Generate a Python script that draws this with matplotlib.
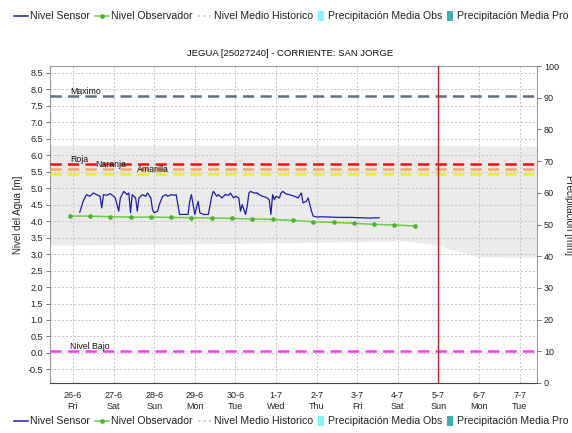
import numpy as np
import pandas as pd
import matplotlib
matplotlib.use("Agg")
import matplotlib.pyplot as plt
import matplotlib.dates as mdates
from matplotlib.lines import Line2D
from matplotlib.patches import Rectangle

plt.rcParams["font.family"] = ["Liberation Sans", "DejaVu Sans"]

# ---------------------------------------------------------------- data
start = pd.Timestamp("2020-06-26 00:00")

# sensor level readings: hours since 26-6 00:00, level in metres
sensor_hours = [4, 6, 8, 10, 12, 14, 16, 17, 18, 20, 22, 24, 25, 27, 28, 29, 30, 32, 33, 34,
                35, 37, 38, 39, 41, 43, 44, 46, 47, 48, 50, 51, 53, 55, 56, 58, 60, 61, 63, 66,
                68, 69, 70, 71, 72, 74, 75, 77, 80, 82, 83, 85, 86, 88, 90, 92, 93, 95, 96, 98,
                99, 100, 102, 103, 104, 105, 107, 109, 110, 112, 114, 116, 117, 118, 119, 120,
                122, 123, 124, 126, 128, 129, 131, 133, 135, 136, 138, 139, 141, 142, 144, 146,
                152, 158, 164, 170, 176, 181]
sensor_level = [4.27, 4.60, 4.80, 4.75, 4.85, 4.80, 4.75, 4.40, 4.80, 4.78, 4.83, 4.75, 4.70,
                4.30, 4.70, 4.80, 4.90, 4.80, 4.85, 4.25, 4.80, 4.70, 4.30, 4.70, 4.80, 4.75,
                4.85, 4.70, 4.35, 4.25, 4.30, 4.50, 4.75, 4.80, 4.75, 4.80, 4.78, 4.80, 4.20,
                4.20, 4.20, 4.60, 4.80, 4.50, 4.20, 4.60, 4.25, 4.20, 4.20, 4.75, 4.90, 4.75,
                4.80, 4.70, 4.80, 4.78, 4.85, 4.70, 4.75, 4.70, 4.30, 4.50, 4.20, 4.45, 4.85,
                4.90, 4.85, 4.85, 4.80, 4.75, 4.72, 4.65, 4.20, 4.80, 4.65, 4.75, 4.70, 4.85,
                4.90, 4.82, 4.80, 4.78, 4.75, 4.70, 4.85, 4.55, 4.60, 4.70, 4.30, 4.15, 4.12,
                4.13, 4.12, 4.11, 4.11, 4.10, 4.09, 4.10]

# observer readings (twice a day)
obs_hours = [-2, 10, 22, 34, 46, 58, 70, 82, 94, 106, 118, 130, 142, 154, 166, 178, 190, 202]
obs_level = [4.15, 4.15, 4.13, 4.12, 4.12, 4.11, 4.10, 4.09, 4.08, 4.06, 4.05, 4.02, 3.98,
             3.96, 3.93, 3.90, 3.88, 3.85]

# historical range envelope
band_hours = [-14, 60, 150, 196, 212, 240, 275]
band_low = [3.27, 3.30, 3.36, 3.40, 3.30, 2.92, 2.90]
band_high = [6.30, 6.30, 6.30, 6.30, 6.30, 6.28, 6.27]

# alert thresholds
threshold_names = ["Maximo", "Roja", "Naranja", "Amarilla", "Nivel Bajo"]
threshold_values = [7.79, 5.72, 5.58, 5.43, 0.06]
threshold_colors = ["#5f6f80", "#ee1111", "#f4a860", "#eeee22", "#ee44ee"]
threshold_label_hours = [-1.5, -1.5, 13, 38, -1.5]

forecast_hour = 216  # 5-7 00:00

day_ticks = list(range(0, 12))

title = "JEGUA [25027240] - CORRIENTE: SAN JORGE"

# ---------------------------------------------------------------- figure
def to_time(hours):
    return start + pd.to_timedelta(np.asarray(hours, dtype=float), unit="h")

fig = plt.figure(figsize=(5.72, 4.33), dpi=100)
W, H = 572.0, 433.0
ax = fig.add_axes([50 / W, 1 - 383 / H, 487 / W, 317 / H])

t_band = to_time(band_hours)
ax.fill_between(t_band, band_low, band_high, color="#ebebeb", lw=0, zorder=0)

ax.set_ylim(-0.91, 8.70)
ax.set_xlim(to_time([-13.6])[0], to_time([274.3])[0])

ax.set_yticks(np.arange(-0.5, 8.51, 0.5))
ax.set_yticklabels([f"{v:.1f}" for v in np.arange(-0.5, 8.51, 0.5)])
ax.set_xticks(to_time([d * 24 for d in day_ticks]))
ax.xaxis.set_major_formatter(
    plt.FuncFormatter(lambda v, p: (lambda d: f"{d.day}-{d.month}\n{d.strftime('%a')}")(mdates.num2date(v))))

ax.grid(True, color="#c4c4c4", linestyle=(0, (2, 2)), linewidth=0.7, zorder=1)
ax.set_axisbelow(True)

for name, val, col, lh in zip(threshold_names, threshold_values, threshold_colors, threshold_label_hours):
    ax.axhline(val, color=col, lw=1.8, linestyle=(0, (4.5, 2.5)), zorder=3)
    ax.text(to_time([lh])[0], val + 0.01, name, fontsize=6.3, va="bottom", ha="left",
            color="#111111", zorder=5)

ax.plot(to_time(sensor_hours), sensor_level, color="#1c1cb0", lw=0.9, zorder=4)
ax.plot(to_time(obs_hours), obs_level, color="#6ccc48", lw=1.1, marker="o", ms=2.3,
        mfc="#50b030", mec="#50b030", zorder=4)

ax.axvline(to_time([forecast_hour])[0], color="#cc2020", lw=1.0, zorder=4)

for s in ["left", "right", "top"]:
    ax.spines[s].set_color("#9a9a9a")
    ax.spines[s].set_linewidth(0.8)
ax.spines["bottom"].set_color("#444444")
ax.spines["bottom"].set_linestyle((0, (1, 1)))

ax.tick_params(axis="y", labelsize=6.5, length=3, width=0.7, color="#777777", pad=2, labelcolor="#222222")
ax.tick_params(axis="x", labelsize=6.5, length=0, pad=6, labelcolor="#222222")

ax2 = ax.twinx()
ax2.set_ylim(0, 100)
ax2.set_yticks(np.arange(0, 101, 10))
ax2.tick_params(axis="y", labelsize=6.5, length=3, width=0.7, color="#777777", pad=2, labelcolor="#222222")
for s in ax2.spines.values():
    s.set_visible(False)

fig.text(290 / W, 1 - 53 / H, title, fontsize=6.8, ha="center", va="center", color="#111111")
fig.text(18 / W, 1 - 215 / H, "Nivel del Agua [m]", fontsize=7, rotation=90,
         ha="center", va="center", color="#222222")
fig.text(569 / W, 1 - 215 / H, "Precipitación [mm]", fontsize=7, rotation=270,
         ha="center", va="center", color="#222222")

# ---------------------------------------------------------------- legends
legend_labels = ["Nivel Sensor", "Nivel Observador", "Nivel Medio Historico",
                 "Precipitación Media Obs", "Precipitación Media Pro"]
legend_kinds = ["line", "marker", "dots", "box", "box"]
legend_colors = ["#1c1cb0", "#6ccc48", "#c8c8c8", "#80f4f8", "#3cb4ac"]

fig.canvas.draw()
renderer = fig.canvas.get_renderer()


def draw_legend(y_px):
    x = 14.0
    yf = 1 - y_px / H
    for lab, kind, col in zip(legend_labels, legend_kinds, legend_colors):
        if kind == "box":
            fig.add_artist(Rectangle((x / W, yf - 5 / H), 6 / W, 10 / H, transform=fig.transFigure,
                                     facecolor=col, edgecolor="none"))
            x += 10
        else:
            ls = "-" if kind != "dots" else (0, (1.5, 2))
            ln = Line2D([x / W, (x + 14) / W], [yf, yf], transform=fig.transFigure,
                        color=col, lw=1.1, linestyle=ls)
            fig.add_artist(ln)
            if kind == "marker":
                fig.add_artist(Line2D([(x + 7) / W], [yf], transform=fig.transFigure,
                                      marker="o", ms=2.4, color="#50b030", lw=0))
            x += 16
        t = fig.text(x / W, yf, lab, fontsize=7.6, ha="left", va="center", color="#222222")
        ext = t.get_window_extent(renderer)
        x += ext.width + 5


draw_legend(16)
draw_legend(421)

fig.savefig("out.png", dpi=100)
